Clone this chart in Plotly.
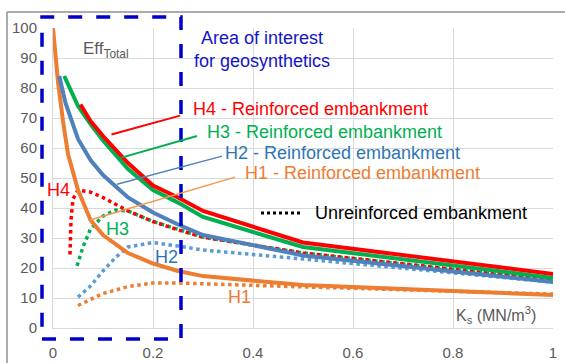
import plotly.graph_objects as go

# ---------------- data ----------------
# Reinforced embankment (solid lines)
h1_r_x = [0.0, 0.01, 0.02, 0.03, 0.05, 0.075, 0.1, 0.15, 0.2, 0.25, 0.3, 0.5, 1.0]
h1_r_y = [100, 82, 69, 58, 46, 36, 31, 25, 21.5, 19, 17.3, 14.3, 11]
h2_r_x = [0.0125, 0.025, 0.05, 0.075, 0.1, 0.15, 0.2, 0.25, 0.3, 0.5, 1.0]
h2_r_y = [84, 75, 63, 56, 51, 43.5, 38.5, 34.5, 31, 24.2, 15.3]
h3_r_x = [0.0225, 0.05, 0.075, 0.1, 0.15, 0.2, 0.25, 0.3, 0.5, 1.0]
h3_r_y = [84, 74, 68, 62.5, 53, 46, 41.8, 37, 27, 16.7]
h4_r_x = [0.055, 0.075, 0.1, 0.15, 0.2, 0.25, 0.3, 0.5, 1.0]
h4_r_y = [74.5, 69, 64, 55, 47.5, 43.5, 39, 28.5, 18]

# Unreinforced embankment (dotted lines)
h1_u_x = [0.05, 0.075, 0.1, 0.15, 0.2, 0.25, 0.3, 0.5, 1.0]
h1_u_y = [7.5, 9.5, 11.5, 13.8, 15, 15, 14.7, 13.7, 11.3]
h2_u_x = [0.05, 0.075, 0.1, 0.125, 0.15, 0.2, 0.25, 0.3, 0.5, 1.0]
h2_u_y = [10.3, 14, 19, 23.5, 27, 28.5, 27.3, 26, 23, 15.3]
h3_u_x = [0.048, 0.06, 0.075, 0.1, 0.125, 0.15, 0.2, 0.25, 0.3, 0.5, 1.0]
h3_u_y = [20.7, 27, 33, 37.3, 39.3, 39, 35.5, 33, 30.3, 25, 15.8]
h4_u_x = [0.034, 0.036, 0.04, 0.05, 0.075, 0.1, 0.15, 0.2, 0.25, 0.3, 0.5, 1.0]
h4_u_y = [24.5, 36, 43, 46, 45.3, 43.5, 39, 35.5, 32.7, 30.3, 25, 16]

x_ticks = [0, 0.2, 0.4, 0.6, 0.8, 1]
x_tick_text = ["0", "0.2", "0.4", "0.6", "0.8", "1"]
y_ticks = [0, 10, 20, 30, 40, 50, 60, 70, 80, 90, 100]

# ---------------- styles ----------------
RED = "#ff0000"
GREEN = "#00b050"
BLUE = "#4f81bd"
BLUE_DOT = "#5b9bd5"
ORANGE = "#ed7d31"
GRAY = "#595959"
FONT = "Liberation Sans"

fig = go.Figure()

dotted = [
    (h1_u_x, h1_u_y, ORANGE, "H1 unreinforced"),
    (h2_u_x, h2_u_y, BLUE_DOT, "H2 unreinforced"),
    (h3_u_x, h3_u_y, GREEN, "H3 unreinforced"),
    (h4_u_x, h4_u_y, RED, "H4 unreinforced"),
]
for xs, ys, c, n in dotted:
    fig.add_trace(go.Scatter(x=xs, y=ys, mode="lines", name=n,
                             line=dict(color=c, width=3.5, dash="dot"),
                             showlegend=False, hoverinfo="skip"))

solid = [
    (h1_r_x, h1_r_y, ORANGE, "H1 reinforced"),
    (h2_r_x, h2_r_y, BLUE, "H2 reinforced"),
    (h3_r_x, h3_r_y, GREEN, "H3 reinforced"),
    (h4_r_x, h4_r_y, RED, "H4 reinforced"),
]
for xs, ys, c, n in solid:
    fig.add_trace(go.Scatter(x=xs, y=ys, mode="lines", name=n,
                             line=dict(color=c, width=4),
                             showlegend=False, hoverinfo="skip"))

shapes = []
# Area-of-interest dashed box (paper coords so it is not clipped)
shapes.append(dict(type="rect", xref="paper", yref="paper",
                   x0=-0.022, x1=0.256, y0=-0.037, y1=1.037,
                   line=dict(color="#0000cc", width=3.5, dash="14px,14px")))
# outer chart border (top and left visible)
shapes.append(dict(type="line", xref="paper", yref="paper",
                   x0=-0.092, x1=1.05, y0=1.053, y1=1.053,
                   line=dict(color="#909090", width=1.5)))
shapes.append(dict(type="line", xref="paper", yref="paper",
                   x0=-0.092, x1=-0.092, y0=1.053, y1=-0.15,
                   line=dict(color="#909090", width=1.5)))
# leader lines
leaders = [
    (0.117, 64.5, 0.254, 70.8, RED, 2),
    (0.137, 56.8, 0.288, 64.0, GREEN, 2),
    (0.128, 47.9, 0.338, 57.3, BLUE, 1.5),
    (0.074, 36.0, 0.364, 50.3, "#f79646", 1.5),
]
for x0, y0, x1, y1, c, w in leaders:
    shapes.append(dict(type="line", xref="paper", yref="paper",
                       x0=x0, y0=y0 / 100, x1=x1, y1=y1 / 100,
                       line=dict(color=c, width=w)))
# dotted legend sample
shapes.append(dict(type="line", xref="paper", yref="paper",
                   x0=0.416, x1=0.498, y0=0.383, y1=0.383,
                   line=dict(color="black", width=3, dash="dot")))

def ann(text, x, y, color, size, xanchor="center", yanchor="middle"):
    return dict(text=text, x=x, y=y, xref="paper", yref="paper",
                showarrow=False, xanchor=xanchor, yanchor=yanchor,
                font=dict(family=FONT, size=size, color=color))

annotations = [
    ann("Area of interest<br>for geosynthetics", 0.418, 0.927, "#1414c8", 18),
    ann("Eff<sub>Total</sub>", 0.105, 0.925, GRAY, 17),
    ann("H4 - Reinforced embankment", 0.276, 0.73, RED, 18, "left"),
    ann("H3 - Reinforced embankment", 0.304, 0.653, GREEN, 18, "left"),
    ann("H2 - Reinforced embankment", 0.34, 0.583, "#2e75b6", 18, "left"),
    ann("H1 - Reinforced embankment", 0.38, 0.517, ORANGE, 18, "left"),
    ann("Unreinforced embankment", 0.52, 0.383, "black", 18, "left"),
    ann("H4", 0.01, 0.46, RED, 18),
    ann("H3", 0.128, 0.33, GREEN, 18),
    ann("H2", 0.226, 0.237, "#2e75b6", 18),
    ann("H1", 0.372, 0.103, ORANGE, 18),
    ann("K<sub>s</sub> (MN/m<sup>3</sup>)", 0.885, 0.045, GRAY, 16),
]
for a in annotations:
    a["align"] = "center"
    fig.add_annotation(**a)

fig.update_layout(
    width=565, height=363,
    margin=dict(l=53, r=12, t=28, b=35, autoexpand=False),
    paper_bgcolor="white", plot_bgcolor="white",
    shapes=shapes,
    font=dict(family=FONT, color=GRAY, size=15),
    showlegend=False,
)
fig.update_xaxes(range=[0, 1], tickvals=x_ticks, ticktext=x_tick_text,
                 showgrid=True, gridcolor="#d9d9d9", gridwidth=1,
                 zeroline=False, showline=True, linecolor="#d9d9d9",
                 ticks="outside", ticklen=11, tickcolor="rgba(0,0,0,0)",
                 automargin=False,
                 tickfont=dict(family=FONT, size=15, color=GRAY))
fig.update_yaxes(range=[0, 100], tickvals=y_ticks,
                 showgrid=True, gridcolor="#d9d9d9", gridwidth=1,
                 zeroline=False, showline=True, linecolor="#d9d9d9",
                 ticks="outside", ticklen=12, tickcolor="rgba(0,0,0,0)",
                 automargin=False,
                 tickfont=dict(family=FONT, size=15, color=GRAY))

fig.write_html("out.html")
